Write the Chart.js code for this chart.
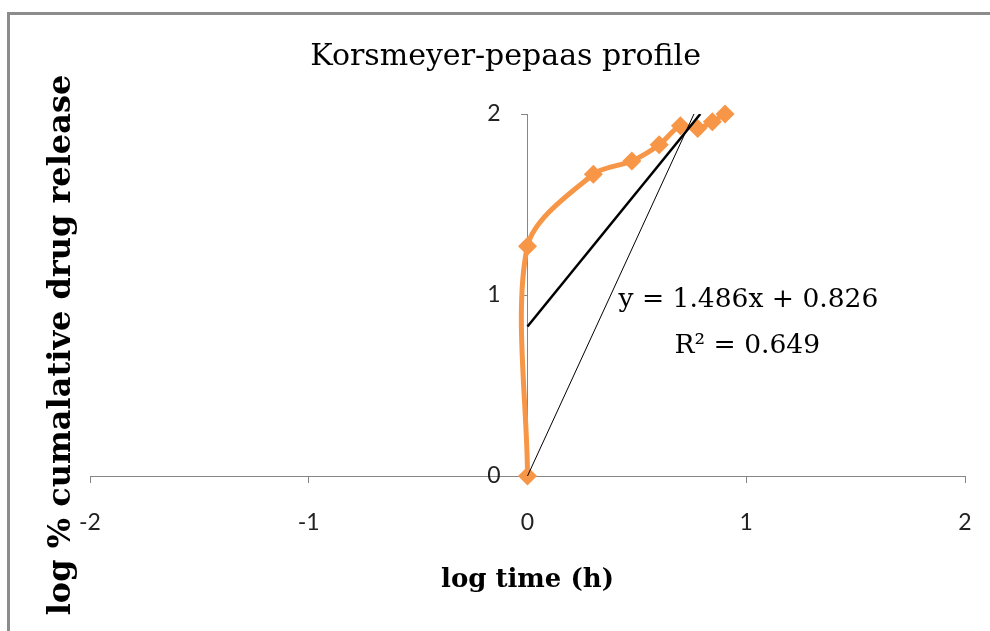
<!DOCTYPE html>
<html>
<head>
<meta charset="utf-8">
<title>Korsmeyer-pepaas profile</title>
<script src="https://cdn.jsdelivr.net/npm/chart.js@4.4.1/dist/chart.umd.min.js"></script>
<style>
  html, body { margin: 0; padding: 0; background: #ffffff; }
  #wrap { position: relative; width: 990px; height: 631px; overflow: hidden; }
  #frame { position: absolute; left: 7px; top: 12px; width: 1200px; height: 800px;
           border-left: 3px solid #8c8c8c; border-top: 3px solid #8c8c8c; pointer-events: none; }
  canvas { position: absolute; left: 0; top: 0; }
</style>
</head>
<body>
<div id="wrap">
  <canvas id="chart" width="990" height="631"></canvas>
  <div id="frame"></div>
</div>
<script>
// log time (h) and log % cumulative drug release
const logTime = [0, 0, 0.301, 0.477, 0.602, 0.699, 0.778, 0.845, 0.903];
const logRelease = [0, 1.27, 1.667, 1.74, 1.83, 1.935, 1.92, 1.957, 2.0];

// linear fit reported on the chart
const fitSlope = 1.486;
const fitIntercept = 0.826;
const fitR2 = 0.649;

// straight guide from the origin
const guideX = [0, 0.761];
const guideY = [0, 2.0];

// axis ranges and ticks
const xTicks = [-2, -1, 0, 1, 2];
const yTicks = [0, 1, 2];

const chartTitle = 'Korsmeyer-pepaas profile';
const xTitle = 'log time (h)';
const yTitle = 'log % cumalative drug release';

const xMin = xTicks[0], xMax = xTicks[xTicks.length - 1];
const yMin = yTicks[0], yMax = yTicks[yTicks.length - 1];

const orange = '#F79646';
const axisGrey = '#868686';
const tickFont = { family: 'Lato', size: 23 };

const seriesPoints = logTime.map((x, i) => ({ x: x, y: logRelease[i] }));

// fitted line over the data range, stopped where it meets the top of the scale
const fitStart = Math.min(...logTime);
const fitEnd = Math.min(Math.max(...logTime), (yMax - fitIntercept) / fitSlope);
const fitPoints = [fitStart, fitEnd].map(x => ({ x: x, y: fitSlope * x + fitIntercept }));

const guidePoints = guideX.map((x, i) => ({ x: x, y: guideY[i] }));

const fmt = v => v.toFixed(3);
const eqLine1 = 'y = ' + fmt(fitSlope) + 'x + ' + fmt(fitIntercept);
const eqLine2 = 'R\u00B2 = ' + fmt(fitR2);

// the value axis crosses at x = 0; keep its labels off the axis line by tick length + padding
const yLabelGap = {
  id: 'yLabelGap',
  beforeDraw(chart) {
    const ys = chart.scales.y;
    const items = ys.getLabelItems();
    if (items._gapApplied) return;
    const axisX = chart.scales.x.getPixelForValue(0);
    const right = axisX - ys.options.grid.tickLength - ys.options.ticks.padding;
    items.forEach(it => { it.options.translation[0] = right; it.options.textAlign = 'right'; });
    items._gapApplied = true;
  }
};

// titles and fit equation, placed from the chart's scales
const textPlugin = {
  id: 'chartText',
  afterDraw(chart) {
    const { ctx, chartArea, scales } = chart;
    const xs = scales.x, ys = scales.y;
    ctx.save();
    ctx.fillStyle = '#000000';
    ctx.textAlign = 'center';
    ctx.textBaseline = 'middle';

    ctx.font = '30px "DejaVu Serif", serif';
    ctx.fillText(chartTitle, xs.getPixelForValue(-0.1), chartArea.top - 57);

    ctx.font = 'bold 26px "DejaVu Serif", serif';
    ctx.fillText(xTitle, xs.getPixelForValue(0), ys.getPixelForValue(0) + 104);

    ctx.save();
    ctx.font = 'bold 32px "DejaVu Serif", serif';
    ctx.translate(62, (chartArea.top + ys.getPixelForValue(0)) / 2 + 50);
    ctx.rotate(-Math.PI / 2);
    ctx.fillText(yTitle, 0, 0);
    ctx.restore();

    ctx.font = '26.5px "DejaVu Serif", serif';
    ctx.fillText(eqLine1, xs.getPixelForValue(1.01), ys.getPixelForValue(0.97));
    ctx.fillText(eqLine2, xs.getPixelForValue(1.005), ys.getPixelForValue(0.72));
    ctx.restore();
  }
};

new Chart(document.getElementById('chart'), {
  type: 'scatter',
  data: {
    datasets: [
      {
        label: 'log % cumalative drug release',
        data: seriesPoints,
        showLine: true,
        tension: 0.3,
        clip: false,
        borderColor: orange,
        backgroundColor: orange,
        borderWidth: 5,
        pointStyle: 'rectRot',
        pointRadius: 9.5,
        pointBorderWidth: 0,
        pointBackgroundColor: orange,
        order: 3
      },
      {
        label: 'guide',
        data: guidePoints,
        showLine: true,
        borderColor: '#000000',
        borderWidth: 1,
        pointRadius: 0,
        order: 2
      },
      {
        label: 'Linear fit',
        data: fitPoints,
        showLine: true,
        borderColor: '#000000',
        borderWidth: 2.5,
        pointRadius: 0,
        order: 1
      }
    ]
  },
  options: {
    responsive: false,
    animation: false,
    layout: { padding: { left: 90, right: 25, top: 114, bottom: 155 } },
    plugins: {
      legend: { display: false },
      tooltip: { enabled: false },
      title: { display: false }
    },
    scales: {
      x: {
        type: 'linear',
        position: { y: 0 },
        min: xMin,
        max: xMax,
        // end labels overhang into the layout padding instead of shrinking the plot
        afterFit: s => { s.paddingLeft = 0; s.paddingRight = 0; },
        afterBuildTicks: s => { s.ticks = xTicks.map(v => ({ value: v })); },
        grid: { display: true, drawOnChartArea: false, drawTicks: true, tickLength: 6, color: axisGrey },
        border: { display: true, color: axisGrey, width: 1 },
        ticks: { padding: 27, color: '#222222', font: tickFont }
      },
      y: {
        type: 'linear',
        position: { x: 0 },
        min: yMin,
        max: yMax,
        // the axis sits inside the plot, so it takes no room at the side
        afterFit: s => { s.width = 0; },
        afterBuildTicks: s => { s.ticks = yTicks.map(v => ({ value: v })); },
        grid: { display: true, drawOnChartArea: false, drawTicks: true, tickLength: 6, color: axisGrey },
        border: { display: true, color: axisGrey, width: 1 },
        ticks: { padding: 21, color: '#222222', font: tickFont }
      }
    }
  },
  plugins: [yLabelGap, textPlugin]
});
</script>
</body>
</html>
